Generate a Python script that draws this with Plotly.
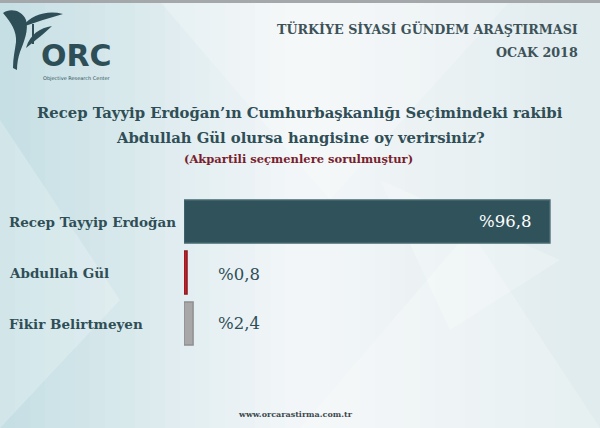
import plotly.graph_objects as go

categories = ["Recep Tayyip Erdoğan", "Abdullah Gül", "Fikir Belirtmeyen"]
values = [96.8, 0.8, 2.4]
value_labels = ["%96,8", "%0,8", "%2,4"]
bar_colors = ["#30525a", "#c1222b", "#a8a8a8"]
edge_colors = ["#466870", "#8e1a20", "#8f8f8f"]

TEXT = "#2f4e56"
SERIF = "DejaVu Serif, serif"
SANS = "DejaVu Sans, sans-serif"

FW, FH = 600, 428
L, R, T, B = 184, 38, 196, 79
W = FW - L - R
H = FH - T - B


def PX(x):
    return (x - L) / W


def PY(y):
    return (FH - B - y) / H


fig = go.Figure()
fig.add_trace(go.Bar(
    y=categories, x=values, orientation="h",
    marker=dict(color=bar_colors, line=dict(color=edge_colors, width=1.5)),
    hoverinfo="skip", showlegend=False,
))

annotations = []
# value labels
annotations.append(dict(x=values[0], y=categories[0], xref="x", yref="y",
                        text=value_labels[0], showarrow=False,
                        xanchor="right", xshift=-17,
                        font=dict(family=SERIF, size=16.5, color="white")))
for i in (1, 2):
    annotations.append(dict(x=PX(216), y=categories[i], xref="paper", yref="y",
                            text=value_labels[i], showarrow=False,
                            xanchor="left", yshift=-2 if i == 1 else 0,
                            font=dict(family=SERIF, size=16.5, color=TEXT)))
# category labels
for c in categories:
    annotations.append(dict(x=PX(7), y=c, xref="paper", yref="y", xanchor="left",
                            text="<b>%s</b>" % c, showarrow=False,
                            font=dict(family=SERIF, size=13.5, color=TEXT)))


def ptxt(x, y, text, size, color=TEXT, anchor="center", family=SERIF):
    annotations.append(dict(x=PX(x), y=PY(y), xref="paper", yref="paper",
                            xanchor=anchor, yanchor="middle", text=text, showarrow=False,
                            font=dict(family=family, size=size, color=color)))


ptxt(580, 29, "<b>TÜRKİYE SİYASİ GÜNDEM ARAŞTIRMASI</b>", 12.7, "#3d5258", "right")
ptxt(580, 52, "<b>OCAK 2018</b>", 12.7, "#3d5258", "right")
ptxt(300, 113, "<b>Recep Tayyip Erdoğan’ın Cumhurbaşkanlığı Seçimindeki rakibi</b>", 14.8)
ptxt(300, 137, "<b>Abdullah Gül olursa hangisine oy verirsiniz?</b>", 14.8)
ptxt(298, 159, "<b>(Akpartili seçmenlere sorulmuştur)</b>", 11.5, "#7a1e2e")
ptxt(295, 414, "<b>www.orcarastirma.com.tr</b>", 8, "#3d4a4e")
ptxt(39, 55, "<b>ORC</b>", 30, "#2e4f57", "left", SANS)
ptxt(41, 78, "Objective Research Center", 5, "#2e4f57", "left", SANS)

fig.update_layout(
    width=FW, height=FH,
    margin=dict(l=L, r=R, t=T, b=B),
    paper_bgcolor="#e8eef0", plot_bgcolor="rgba(0,0,0,0)",
    bargap=0.16,
    xaxis=dict(range=[0, 100], visible=False, fixedrange=True),
    yaxis=dict(autorange="reversed", visible=False, fixedrange=True),
    annotations=annotations,
)

# background: horizontal gradient strips
stops = [(0.0, (197, 223, 228)), (0.5, (244, 247, 249)), (1.0, (224, 236, 238))]
n = 40
for k in range(n):
    t = (k + 0.5) / n
    for (t0, a), (t1, b) in zip(stops[:-1], stops[1:]):
        if t0 <= t <= t1:
            u = (t - t0) / (t1 - t0)
            col = tuple(int(a[j] + (b[j] - a[j]) * u) for j in range(3))
    fig.add_shape(type="rect", xref="paper", yref="paper", layer="below",
                  x0=PX(k * FW / n), x1=PX((k + 1) * FW / n + 1), y0=PY(FH + 2), y1=PY(-2),
                  line=dict(width=0), fillcolor="rgb(%d,%d,%d)" % col)
# faint lighter facets
facets_px = [
    [(150, -10), (330, 200), (520, -10)],
    [(300, 428), (470, 230), (600, 428)],
    [(0, 120), (120, 300), (0, 428)],
    [(380, 180), (560, 260), (450, 330)],
]
for tri in facets_px:
    p = "M " + " L ".join("%.4f %.4f" % (PX(x), PY(y)) for x, y in tri) + " Z"
    fig.add_shape(type="path", xref="paper", yref="paper", layer="below", path=p,
                  line=dict(width=0), fillcolor="rgba(255,255,255,0.22)")
# gray top border
fig.add_shape(type="rect", xref="paper", yref="paper", layer="above",
              x0=PX(0), x1=PX(FW), y0=PY(3), y1=PY(-1),
              line=dict(width=0), fillcolor="#a4a8aa")

# logo symbol (approximate), pixel coordinates
logo_paths = [
    "M 3 13 C 10 8 22 10 26 20 C 29 30 24 42 20 52 C 18 58 17 64 17 70 L 13 68 C 13 58 15 50 16 42 C 17 32 11 22 3 13 Z",
    "M 22 27 C 32 14 48 10 63 14 C 50 18 36 22 22 27 Z",
    "M 26 48 C 30 34 40 28 52 26 C 46 32 36 40 26 48 Z",
    "M 32 24 L 34 24 L 34 44 L 32 44 Z",
]


def conv_path(p):
    res = []
    is_x = True
    for tkn in p.split():
        try:
            v = float(tkn)
            res.append("%.4f" % (PX(v) if is_x else PY(v)))
            is_x = not is_x
        except ValueError:
            res.append(tkn)
            is_x = True
    return " ".join(res)


for p in logo_paths:
    fig.add_shape(type="path", xref="paper", yref="paper", path=conv_path(p),
                  line=dict(width=0), fillcolor="#2e4f57")

fig.write_html("out.html", config={"displayModeBar": False},
               post_script="document.body.style.margin='0';")
